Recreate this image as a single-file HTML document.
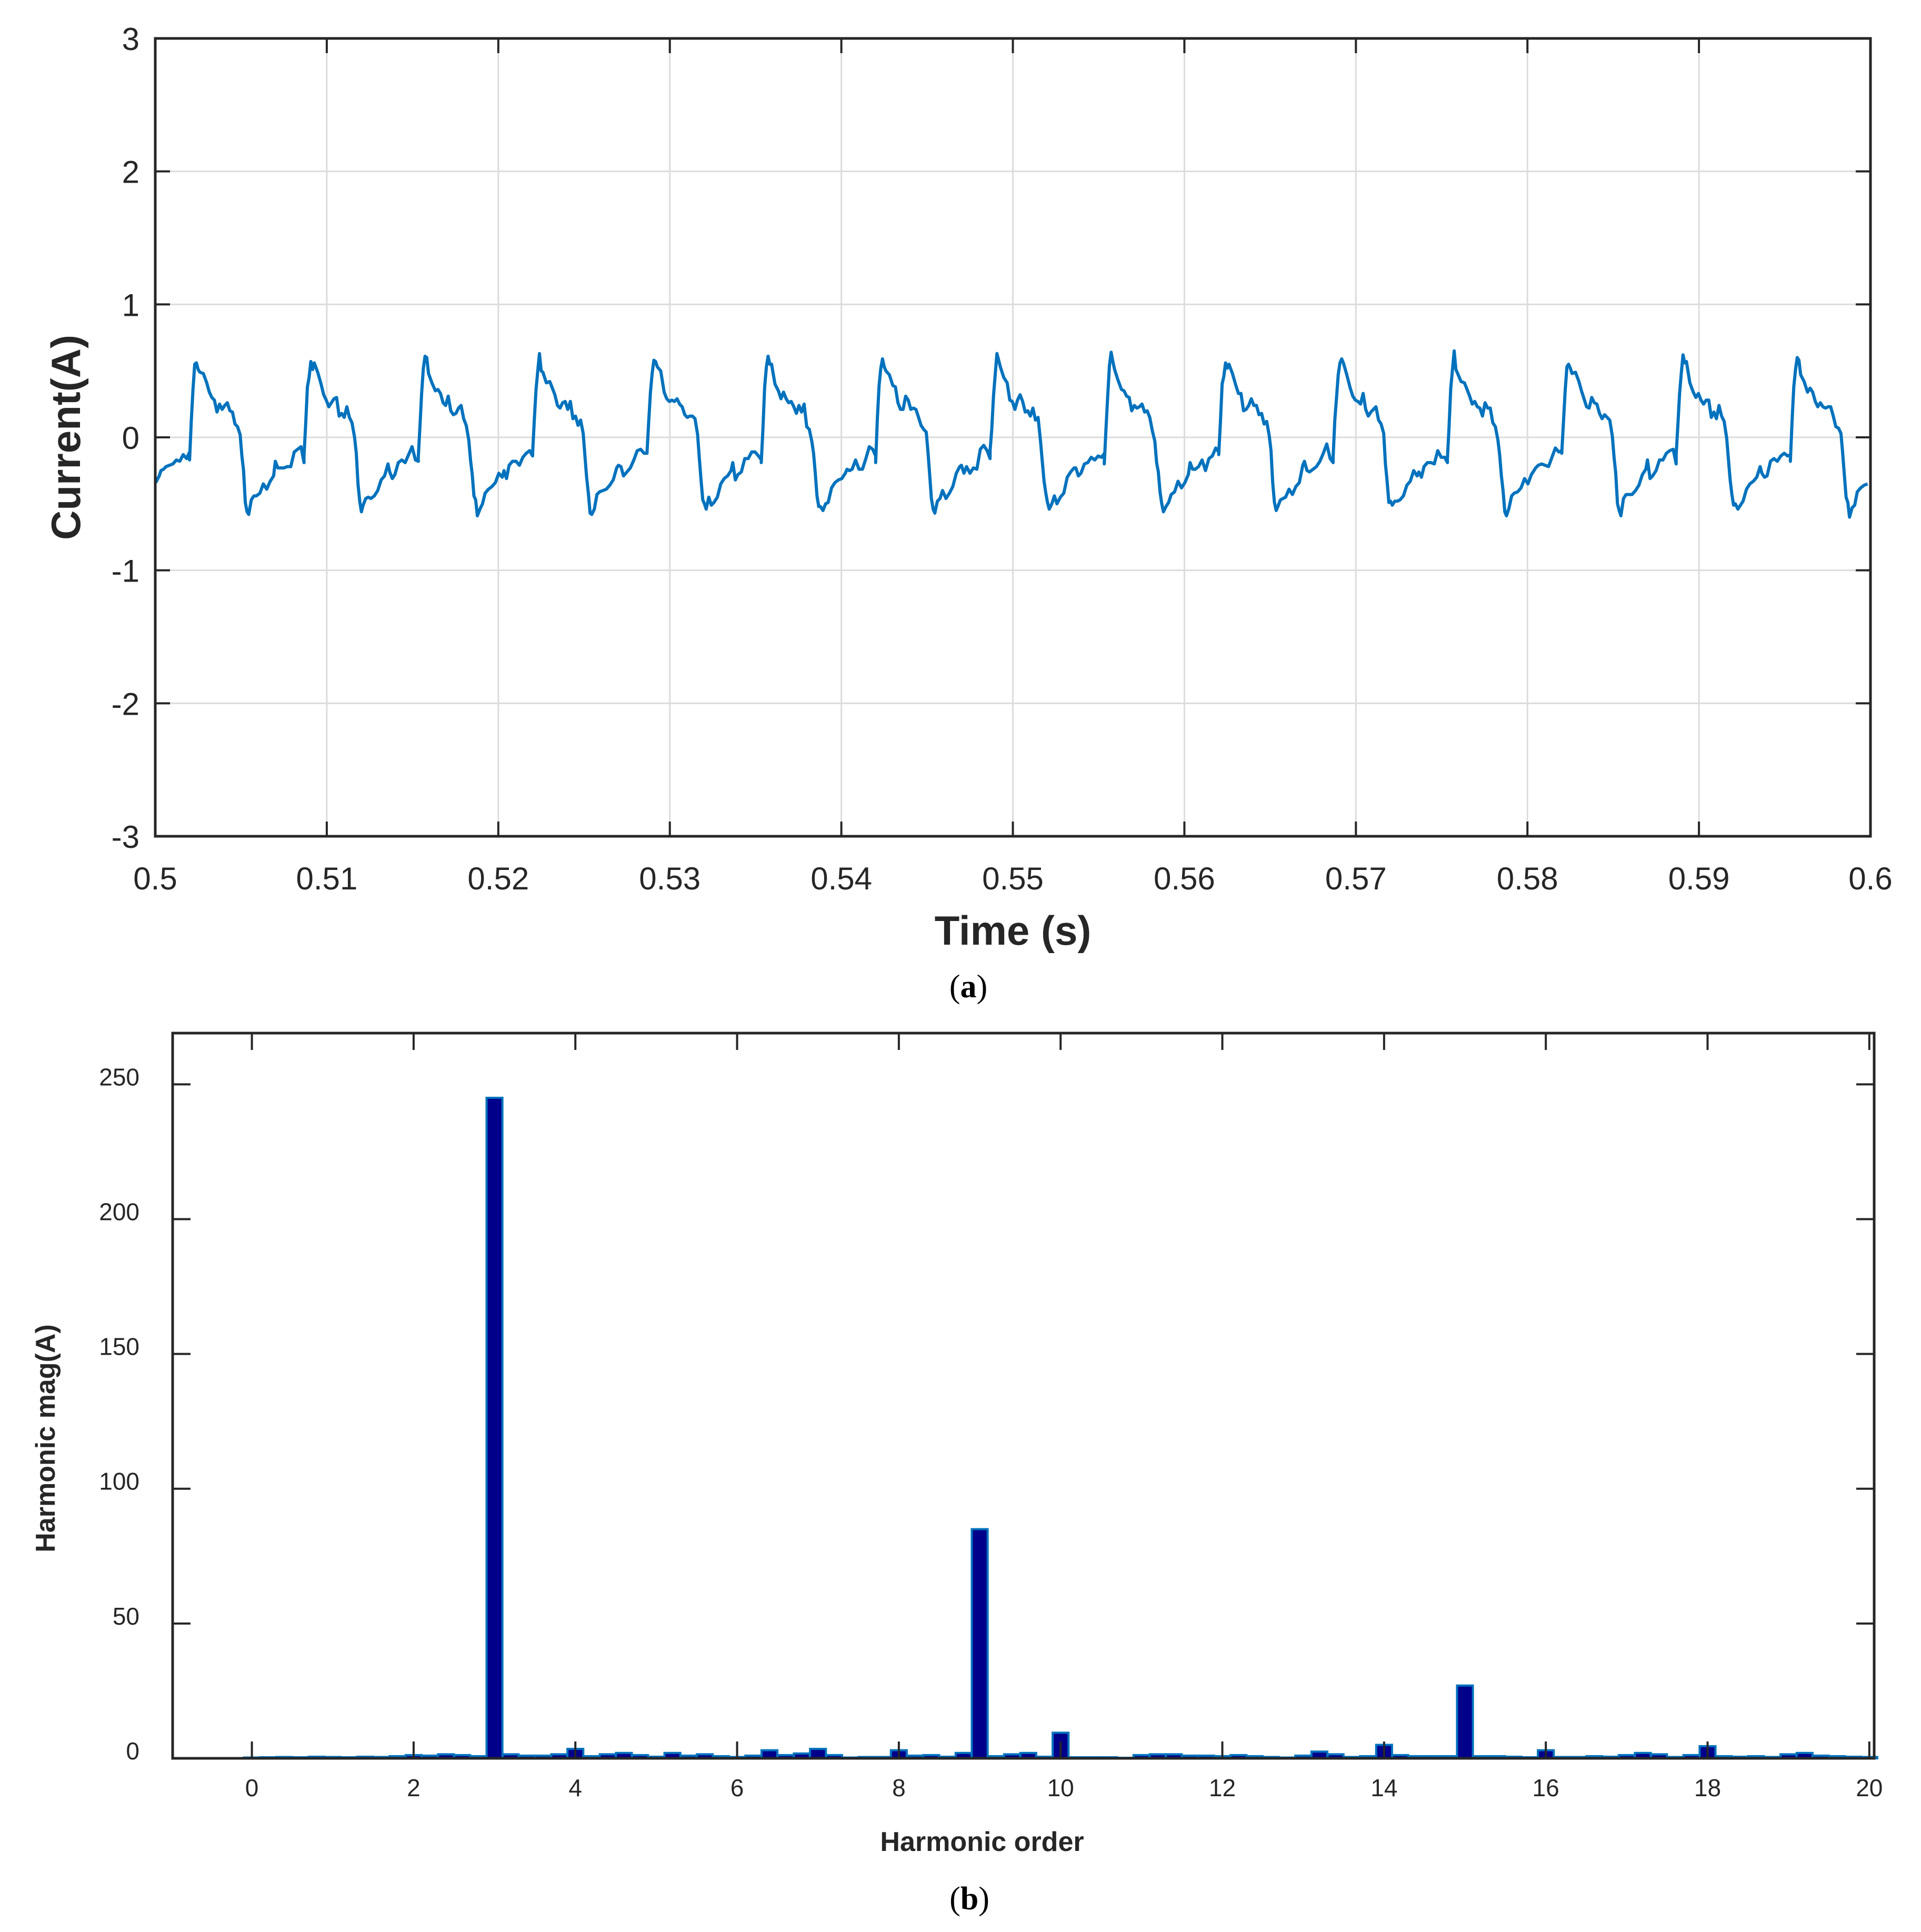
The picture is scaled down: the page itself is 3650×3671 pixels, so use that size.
<!DOCTYPE html>
<html><head><meta charset="utf-8">
<style>
html,body{margin:0;padding:0;background:#fff;}
svg{display:block;font-family:"Liberation Sans",Arial,sans-serif;}
</style></head>
<body>
<svg id="fig" width="3650" height="3671" viewBox="0 0 3650 3671" xmlns="http://www.w3.org/2000/svg">
<rect x="0" y="0" width="3650" height="3671" fill="#fff"/>
<g id="top"></g>
<g id="bot"></g>
<text x="1840" y="1895" font-family="Liberation Serif,serif" font-size="62" text-anchor="middle" fill="#000">(<tspan font-weight="bold">a</tspan>)</text>
<text x="1842" y="3628" font-family="Liberation Serif,serif" font-size="62" text-anchor="middle" fill="#000">(<tspan font-weight="bold">b</tspan>)</text>
</svg>
<script>
// ---- Top chart data ----
const xTicksTop = [0.5,0.51,0.52,0.53,0.54,0.55,0.56,0.57,0.58,0.59,0.6];
const xTickLabelsTop = ["0.5","0.51","0.52","0.53","0.54","0.55","0.56","0.57","0.58","0.59","0.6"];
const yTicksTop = [-3,-2,-1,0,1,2,3];
const cyclePhaseMs = [0,0.1,0.2,0.3,0.4,0.5,0.6,0.8,1.0,1.15,1.3,1.45,1.6,1.75,1.9,2.05,2.2,2.35,2.5,2.65,2.8,2.95,3.05,3.15,3.25,3.35,3.45,3.6,3.75,3.9,4.1,4.3,4.5,4.7,4.9,5.0,5.15,5.3,5.5,5.7,5.9,6.1,6.3,6.5,6.67];
const cycleValues = [-0.15,0.1,0.35,0.5,0.6,0.55,0.52,0.45,0.38,0.33,0.3,0.25,0.24,0.28,0.25,0.2,0.22,0.18,0.2,0.12,0.1,0.0,-0.15,-0.3,-0.45,-0.52,-0.55,-0.5,-0.47,-0.45,-0.42,-0.38,-0.34,-0.3,-0.25,-0.22,-0.27,-0.25,-0.22,-0.2,-0.2,-0.13,-0.1,-0.12,-0.15];
const cycleStarts = [0.49533,0.5020,0.50867,0.51533,0.522,0.52867,0.53533,0.542,0.54867,0.55533,0.562,0.56867,0.57533,0.582,0.58867,0.59533];
const jitter = [0.03,-0.04,0.02,-0.02,0.05,-0.03,0.01,-0.05,0.04,-0.01,0.02,-0.04,0.03,0.0,-0.03,0.04,-0.02,0.01,-0.04,0.03];

// ---- Bottom chart data ----
const hOrders = []; for(let i=0;i<=100;i++) hOrders.push(i/5);
const hMags = [0.3,0.4,0.5,0.4,0.6,0.5,0.4,0.6,0.5,0.8,1.2,1.0,1.5,1.2,0.8,245,1.5,1.0,1.0,1.5,3.5,0.8,1.5,2.0,1.2,0.6,2.0,1.0,1.5,0.8,0.5,1.0,3.0,1.2,1.8,3.5,1.2,0.3,0.5,0.5,3.0,1.0,1.2,0.6,2.0,85,0.8,1.5,2.0,0.6,9.5,0.4,0.4,0.4,0.2,1.2,1.5,1.5,1.0,1.0,0.8,1.2,0.8,0.5,0.3,1.0,2.5,1.5,0.5,0.8,5.0,1.2,0.8,0.8,0.8,27,0.8,0.8,0.6,0.4,3.0,0.5,0.5,0.8,0.6,1.2,2.0,1.5,0.5,1.2,4.5,0.8,0.6,0.8,0.5,1.5,2.0,1.0,0.8,0.6,0.5];
const xTicksBot = [0,2,4,6,8,10,12,14,16,18,20];
const yTicksBot = [0,50,100,150,200,250];

const NS="http://www.w3.org/2000/svg";
function mk(parent,tag,attrs,text){const e=document.createElementNS(NS,tag);for(const k in attrs)e.setAttribute(k,attrs[k]);if(text!==undefined)e.textContent=text;parent.appendChild(e);return e;}

// ===== TOP =====
(function(){
const g=document.getElementById('top');
const L=295,R=3554,T=73,B=1589;
const sx=t=>L+(t-0.5)/0.1*(R-L);
const sy=v=>B-(v+3)/6*(B-T);
xTicksTop.forEach((t,i)=>{
  const x=sx(t);
  const gl=mk(g,'line',{x1:x,y1:T,x2:x,y2:B,stroke:'#dcdcdc','stroke-width':3});
  
  
  mk(g,'line',{x1:x,y1:B,x2:x,y2:B-28,stroke:'#262626','stroke-width':4});
  mk(g,'line',{x1:x,y1:T,x2:x,y2:T+28,stroke:'#262626','stroke-width':4});
  const tl=mk(g,'text',{x:x,y:1690,'font-size':60,'text-anchor':'middle',fill:'#262626'},xTickLabelsTop[i]);
  
  
});
yTicksTop.forEach(v=>{
  const y=sy(v);
  const gl=mk(g,'line',{x1:L,y1:y,x2:R,y2:y,stroke:'#dcdcdc','stroke-width':3});
  
  
  mk(g,'line',{x1:L,y1:y,x2:L+28,y2:y,stroke:'#262626','stroke-width':4});
  mk(g,'line',{x1:R,y1:y,x2:R-28,y2:y,stroke:'#262626','stroke-width':4});
  const tl=mk(g,'text',{x:265,y:y+22,'font-size':60,'text-anchor':'end',fill:'#262626'},String(v));
  
  
});
let pts=[];
cycleStarts.forEach((t0,k)=>{
  cyclePhaseMs.forEach((p,i)=>{
    const t=t0+p/1000;
    if(t<0.5||t>0.6) return;
    const v=cycleValues[i]+jitter[(i*7+k*3)%jitter.length];
    pts.push(sx(t).toFixed(1)+','+sy(v).toFixed(1));
  });
});
const line=mk(g,'polyline',{points:pts.join(' '),fill:'none',stroke:'#0072BD','stroke-width':6,'stroke-linejoin':'round'});


const fr=mk(g,'rect',{x:L,y:T,width:R-L,height:B-T,fill:'none',stroke:'#262626','stroke-width':5});


const xt=mk(g,'text',{x:(L+R)/2,y:1795,'font-size':78,'font-weight':'bold','text-anchor':'middle',fill:'#262626'},'Time (s)');


const yt=mk(g,'text',{x:0,y:0,'font-size':78,'font-weight':'bold','text-anchor':'middle',fill:'#262626',transform:'translate(152,831) rotate(-90)'},'Current(A)');


})();

// ===== BOTTOM =====
(function(){
const g=document.getElementById('bot');
const L=328,R=3561,T=1963,B=3341;
const X0=-0.98,X1=20.06;
const sx=h=>L+(h-X0)/(X1-X0)*(R-L);
const sy=v=>B-v/269*(B-T);
const bw=(sx(0.2)-sx(0))*0.98;
hOrders.forEach((h,i)=>{
  const v=hMags[i];
  const y=sy(v);
  const r=mk(g,'rect',{x:sx(h)-bw/2,y:y,width:bw,height:B-y,fill:'#00008B',stroke:'#0072BD','stroke-width':4});
  
  
});
xTicksBot.forEach(t=>{
  const x=sx(t);
  mk(g,'line',{x1:x,y1:B,x2:x,y2:B-32,stroke:'#262626','stroke-width':4});
  mk(g,'line',{x1:x,y1:T,x2:x,y2:T+32,stroke:'#262626','stroke-width':4});
  const tl=mk(g,'text',{x:x,y:3413,'font-size':46,'text-anchor':'middle',fill:'#262626'},String(t));
  
  
});
yTicksBot.forEach(v=>{
  const y=sy(v);
  mk(g,'line',{x1:L,y1:y,x2:L+34,y2:y,stroke:'#262626','stroke-width':4});
  mk(g,'line',{x1:R,y1:y,x2:R-34,y2:y,stroke:'#262626','stroke-width':4});
  const tl=mk(g,'text',{x:265,y:y+2,'font-size':46,'text-anchor':'end',fill:'#262626'},String(v));
  
  
});
const fr=mk(g,'rect',{x:L,y:T,width:R-L,height:B-T,fill:'none',stroke:'#262626','stroke-width':5});


const xt=mk(g,'text',{x:1866,y:3517,'font-size':52,'font-weight':'bold','text-anchor':'middle',fill:'#262626'},'Harmonic order');


const yt=mk(g,'text',{x:0,y:0,'font-size':52,'font-weight':'bold','text-anchor':'middle',fill:'#262626',transform:'translate(104,2733) rotate(-90)'},'Harmonic mag(A)');


})();
</script>
</body></html>
